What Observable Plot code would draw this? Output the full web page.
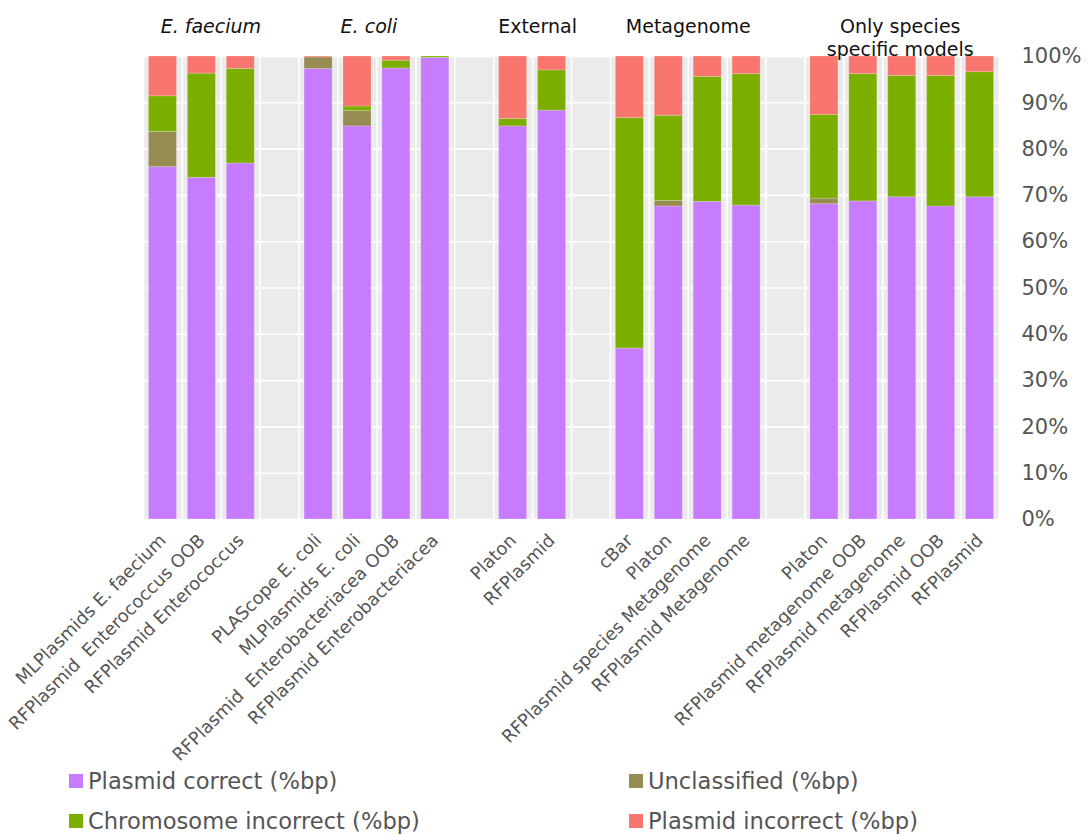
<!DOCTYPE html>
<html><head><meta charset="utf-8">
<script src="https://cdn.jsdelivr.net/npm/d3@7"></script>
<script src="https://cdn.jsdelivr.net/npm/@observablehq/plot@0.6"></script>
<style>
body{margin:0;background:#fff;font-family:"DejaVu Sans",sans-serif;}
#wrap{position:relative;width:1091px;height:835px;overflow:hidden;}
#chart svg text{white-space:pre;}
.leg{position:absolute;font-size:22.6px;color:#555;display:flex;align-items:center;white-space:nowrap;height:30px;line-height:30px;}
.leg i{display:inline-block;width:14px;height:14px;margin-right:5px;}
</style></head><body><div id="wrap"><div id="chart"></div></div>
<script>
const groups = ["E. faecium", "E. coli", "External", "Metagenome", "Only species\nspecific models"];
const groupItalic = [true, true, false, false, false];
const methods = [
  "MLPlasmids E. faecium", "RFPlasmid  Enterococcus OOB", "RFPlasmid Enterococcus",
  "PLAScope E. coli", "MLPlasmids E. coli", "RFPlasmid  Enterobacteriacea OOB", "RFPlasmid Enterobacteriacea",
  "Platon", "RFPlasmid",
  "cBar", "Platon", "RFPlasmid species Metagenome", "RFPlasmid Metagenome",
  "Platon", "RFPlasmid metagenome OOB", "RFPlasmid metagenome", "RFPlasmid OOB", "RFPlasmid"
];
const methodGroup = [0,0,0, 1,1,1,1, 2,2, 3,3,3,3, 4,4,4,4,4];
const plasmidCorrect      = [76.1, 73.8, 76.9, 97.3, 84.9, 97.4, 99.7, 84.9, 88.3, 36.9, 67.6, 68.6, 67.8, 68.1, 68.7, 69.6, 67.6, 69.6];
const unclassified        = [ 7.6,  0.0,  0.0,  2.5,  3.3,  0.0,  0.0,  0.0,  0.0,  0.0,  1.2,  0.0,  0.0,  1.2,  0.0,  0.0,  0.0,  0.0];
const chromosomeIncorrect = [ 7.7, 22.5, 20.4,  0.0,  1.0,  1.7,  0.3,  1.6,  8.7, 49.8, 18.4, 27.0, 28.4, 18.1, 27.5, 26.2, 28.2, 27.0];
const plasmidIncorrect    = [ 8.6,  3.7,  2.7,  0.2, 10.8,  0.9,  0.0, 13.5,  3.0, 13.3, 12.8,  4.4,  3.8, 12.6,  3.8,  4.2,  4.2,  3.4];
const seriesNames = ["Plasmid correct (%bp)", "Unclassified (%bp)", "Chromosome incorrect (%bp)", "Plasmid incorrect (%bp)"];
const seriesColors = ["#C77CFF", "#968C52", "#7CAE00", "#F8766D"];
const yTicks = [0, 10, 20, 30, 40, 50, 60, 70, 80, 90, 100];

const seriesValues = [plasmidCorrect, unclassified, chromosomeIncorrect, plasmidIncorrect];

// slot keys (with empty spacer slots between groups)
const keys = [];
const keyLabel = new Map();
const groupInfo = [];
groups.forEach((g, gi) => {
  const first = keys.length;
  methods.forEach((m, i) => {
    if (methodGroup[i] === gi) { const k = gi + ":" + i; keys.push(k); keyLabel.set(k, m); }
  });
  groupInfo.push({name: g, italic: groupItalic[gi], first: keys[first], n: keys.length - first});
  if (gi < groups.length - 1) { const k = "gap" + gi; keys.push(k); keyLabel.set(k, ""); }
});

const rows = [];
methods.forEach((m, i) => {
  const k = methodGroup[i] + ":" + i;
  seriesNames.forEach((s, si) => rows.push({key: k, series: s, value: seriesValues[si][i]}));
});

const W = 1091, H = 760, ML = 143, MR = 92, MT = 56, MB = 241;
const step = (W - ML - MR) / keys.length;
const titleNudge = [9, -8, 5, 0, -2];

const titleMarks = groupInfo.map((g, gi) => Plot.text([g], {
  x: d => d.first, text: d => d.name, frameAnchor: "top", dy: -40.5,
  dx: (g.n - 1) / 2 * step + titleNudge[gi], lineAnchor: "top", lineHeight: 1.24,
  fontSize: 19, fontStyle: g.italic ? "italic" : "normal", fill: "#111", textAnchor: "middle"
}));

const plot = Plot.plot({
  width: W, height: H,
  marginLeft: ML, marginRight: MR, marginTop: MT, marginBottom: MB,
  style: {fontFamily: "DejaVu Sans, sans-serif", color: "#555", background: "white", overflow: "visible"},
  x: {domain: keys, paddingInner: 0.28, paddingOuter: 0.14, round: false, label: null},
  y: {domain: [0, 100], label: null},
  color: {domain: seriesNames, range: seriesColors},
  marks: [
    Plot.frame({fill: "#EBEBEB", stroke: null}),
    Plot.ruleY(yTicks, {stroke: "white", strokeWidth: 1.6}),
    Plot.ruleX(keys, {dx: -step / 2, stroke: "white", strokeWidth: 1.6}),
    Plot.ruleX([keys[keys.length - 1]], {dx: step / 2, stroke: "white", strokeWidth: 1.6}),
    Plot.barY(rows, Plot.stackY({x: "key", y: "value", fill: "series", stroke: "white", strokeOpacity: 0.25, strokeWidth: 0.8})),
    Plot.axisX({tickRotate: -45, tickSize: 0, tickPadding: 18, dx: 0, fontSize: 17.8, tickFormat: k => keyLabel.get(k), label: null}),
    Plot.axisY({anchor: "right", ticks: yTicks, tickFormat: d => d + "%", tickSize: 0, tickPadding: 22, fontSize: 21, label: null}),
    ...titleMarks
  ]
});
document.getElementById("chart").appendChild(plot);

// legend (HTML, below the SVG)
const wrap = document.getElementById("wrap");
const legPos = [[69, 766], [629, 766], [69, 806], [629, 806]];
seriesNames.forEach((s, i) => {
  const div = document.createElement("div");
  div.className = "leg";
  div.style.left = legPos[i][0] + "px";
  div.style.top = legPos[i][1] + "px";
  const sw = document.createElement("i");
  sw.style.background = seriesColors[i];
  div.appendChild(sw);
  div.appendChild(document.createTextNode(s));
  wrap.appendChild(div);
});
</script></body></html>
